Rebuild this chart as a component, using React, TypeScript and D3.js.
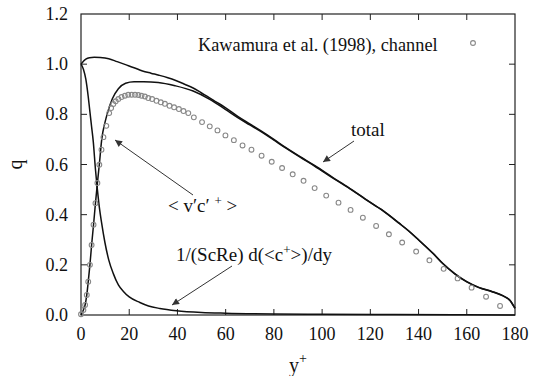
import React from 'react';
import * as d3 from 'd3';

// Kawamura et al. (1998) channel DNS points
const kawX = [0, 1.0, 1.7, 2.4, 3.0, 3.7, 4.4, 5.2, 6.0, 6.8, 7.6, 8.5, 9.3, 10.5, 11.7, 12.5, 13.4, 14.4, 15.5, 16.8, 18.2, 19.6, 21.0, 22.4, 23.8, 25.1, 26.5, 27.9, 29.5, 31.3, 33.1, 34.8, 36.7, 38.6, 40.6, 42.5, 44.5, 46.8, 50.2, 53.4, 56.6, 59.9, 63.4, 67.0, 70.7, 74.9, 79.1, 83.4, 87.8, 92.3, 96.9, 101.7, 106.8, 111.8, 116.9, 122.4, 127.7, 133.2, 139.0, 144.5, 150.4, 156.2, 162.0, 168.0, 173.8];
const kawQ = [0.003, 0.02, 0.04, 0.08, 0.133, 0.2, 0.279, 0.36, 0.446, 0.526, 0.599, 0.659, 0.709, 0.754, 0.805, 0.825, 0.841, 0.852, 0.861, 0.869, 0.874, 0.878, 0.878, 0.878, 0.877, 0.874, 0.871, 0.865, 0.861, 0.854, 0.848, 0.842, 0.834, 0.828, 0.821, 0.813, 0.805, 0.788, 0.769, 0.752, 0.736, 0.716, 0.697, 0.676, 0.659, 0.635, 0.611, 0.586, 0.561, 0.535, 0.506, 0.476, 0.448, 0.419, 0.388, 0.355, 0.322, 0.289, 0.253, 0.218, 0.184, 0.146, 0.109, 0.073, 0.036];

// total flux
const totalX = [0, 1, 2, 3.5, 5.5, 8, 11.5, 15, 18.5, 22, 25.5, 29, 32.3, 36, 39.3, 43, 46.5, 50, 53, 56, 60, 65, 70, 75, 80, 85, 90.7, 97, 104.5, 111, 118.3, 125, 132, 136, 140, 146, 150, 155, 160, 165, 170.7, 175, 178, 180];
const totalQ = [1.0, 1.012, 1.02, 1.026, 1.028, 1.027, 1.022, 1.01, 0.998, 0.986, 0.973, 0.964, 0.956, 0.946, 0.935, 0.92, 0.905, 0.885, 0.868, 0.85, 0.826, 0.792, 0.762, 0.732, 0.7, 0.667, 0.632, 0.595, 0.548, 0.508, 0.46, 0.418, 0.366, 0.335, 0.3, 0.246, 0.206, 0.165, 0.133, 0.11, 0.093, 0.077, 0.058, 0.027];

// turbulent flux <v'c'+>
const turbX = [0, 1, 1.7, 2.4, 3, 3.7, 4.4, 5.2, 6, 6.8, 7.6, 8.6, 10, 11.3, 13, 15.5, 18.5, 22, 26, 32, 39, 46.5, 53.4, 60, 65, 70, 75, 80, 85, 90.7, 97, 104.5, 111, 118.3, 125, 132, 136, 140, 146, 150, 155, 160, 165, 170.7, 175, 178, 180];
const turbQ = [0, 0.02, 0.04, 0.08, 0.133, 0.2, 0.279, 0.36, 0.446, 0.526, 0.6, 0.7, 0.77, 0.815, 0.862, 0.902, 0.924, 0.93, 0.93, 0.927, 0.914, 0.893, 0.86, 0.819, 0.787, 0.758, 0.729, 0.697, 0.665, 0.63, 0.593, 0.546, 0.507, 0.459, 0.417, 0.365, 0.334, 0.299, 0.245, 0.205, 0.164, 0.132, 0.109, 0.092, 0.076, 0.057, 0.026];

// molecular flux 1/(ScRe) d<c+>/dy
const molX = [0, 1, 2, 3, 3.7, 4.4, 5.1, 6, 6.8, 7.6, 8.5, 9.9, 11.5, 13.4, 15.5, 17.5, 20, 24.4, 28, 32.7, 39.6, 50, 60, 80, 100, 130, 160, 180];
const molQ = [1.0, 0.98, 0.94, 0.87, 0.81, 0.75, 0.69, 0.58, 0.5, 0.43, 0.37, 0.29, 0.22, 0.165, 0.12, 0.095, 0.072, 0.05, 0.036, 0.026, 0.017, 0.01, 0.007, 0.004, 0.003, 0.002, 0.001, 0];

const xTicks = [0, 20, 40, 60, 80, 100, 120, 140, 160, 180];
const yTicks = [0, 0.2, 0.4, 0.6, 0.8, 1.0, 1.2];

const W = 536;
const H = 376;
const left = 81;
const right = 515;
const top = 14;
const bottom = 315;
const font = "'Liberation Serif', 'Times New Roman', serif";

export default function App() {
  const x = d3.scaleLinear().domain([0, 180]).range([left, right]);
  const y = d3.scaleLinear().domain([0, 1.2]).range([bottom, top]);
  const line = d3
    .line<[number, number]>()
    .x(d => x(d[0]))
    .y(d => y(d[1]))
    .curve(d3.curveMonotoneX);

  const zip = (a: number[], b: number[]) => a.map((v, i) => [v, b[i]] as [number, number]);
  const tick = 6;

  return (
    <svg width={W} height={H} style={{ position: 'absolute', left: 0, top: 0, background: '#fff', fontFamily: font }}>
      <defs>
        <marker id="ah" viewBox="0 0 10 10" refX="10" refY="5" markerWidth="9" markerHeight="7" orient="auto" markerUnits="userSpaceOnUse">
          <path d="M0,0 L10,5 L0,10 z" fill="#333" />
        </marker>
      </defs>

      {/* frame */}
      <rect x={left} y={top} width={right - left} height={bottom - top} fill="none" stroke="#222" strokeWidth={1.2} />

      {xTicks.map(t => (
        <g key={'x' + t}>
          {t > 0 && t < 180 && (
            <>
              <line x1={x(t)} x2={x(t)} y1={bottom} y2={bottom - tick} stroke="#222" />
              <line x1={x(t)} x2={x(t)} y1={top} y2={top + tick} stroke="#222" />
            </>
          )}
          <text x={x(t)} y={bottom + 25} fontSize={18} textAnchor="middle" fill="#111">{t}</text>
        </g>
      ))}
      {yTicks.map(t => (
        <g key={'y' + t}>
          {t > 0 && t < 1.2 && (
            <>
              <line x1={left} x2={left + tick} y1={y(t)} y2={y(t)} stroke="#222" />
              <line x1={right} x2={right - tick} y1={y(t)} y2={y(t)} stroke="#222" />
            </>
          )}
          <text x={left - 13} y={y(t) + 6} fontSize={18} textAnchor="end" fill="#111">{t.toFixed(1)}</text>
        </g>
      ))}

      {/* axis titles */}
      <text x={(left + right) / 2} y={372} fontSize={20} textAnchor="middle" fill="#111">
        y<tspan dy={-9} fontSize={14}>+</tspan>
      </text>
      <text transform={`translate(22, ${(top + bottom) / 2}) rotate(-90)`} fontSize={20} textAnchor="middle" fill="#111">q</text>

      {/* curves */}
      <path d={line(zip(totalX, totalQ)) ?? ''} fill="none" stroke="#111" strokeWidth={1.5} />
      <path d={line(zip(turbX, turbQ)) ?? ''} fill="none" stroke="#111" strokeWidth={1.5} />
      <path d={line(zip(molX, molQ)) ?? ''} fill="none" stroke="#111" strokeWidth={1.5} />

      {kawX.map((v, i) => (
        <circle key={'k' + i} cx={x(v)} cy={y(kawQ[i])} r={2.4} fill="none" stroke="#888" strokeWidth={1.1} />
      ))}

      {/* legend */}
      <text x={198} y={51} fontSize={18.3} fill="#111">Kawamura et al. (1998), channel</text>
      <circle cx={473} cy={43} r={2.4} fill="none" stroke="#888" strokeWidth={1.1} />

      {/* annotations */}
      <text x={351} y={136} fontSize={19} fill="#111">total</text>
      <line x1={354} y1={141} x2={323} y2={162} stroke="#333" strokeWidth={1} markerEnd="url(#ah)" />

      <text x={168} y={212} fontSize={19} fill="#111">
        {'< v\u2032c\u2032 '}<tspan dy={-7} fontSize={13}>+</tspan><tspan dy={7}>{' >'}</tspan>
      </text>
      <line x1={193} y1={195} x2={115} y2={140} stroke="#333" strokeWidth={1} markerEnd="url(#ah)" />

      <text x={176} y={261} fontSize={19} fill="#111">
        1/(ScRe) d(&lt;c<tspan dy={-7} fontSize={13}>+</tspan><tspan dy={7}>&gt;)/dy</tspan>
      </text>
      <line x1={232} y1={266} x2={172} y2={305} stroke="#333" strokeWidth={1} markerEnd="url(#ah)" />
    </svg>
  );
}
